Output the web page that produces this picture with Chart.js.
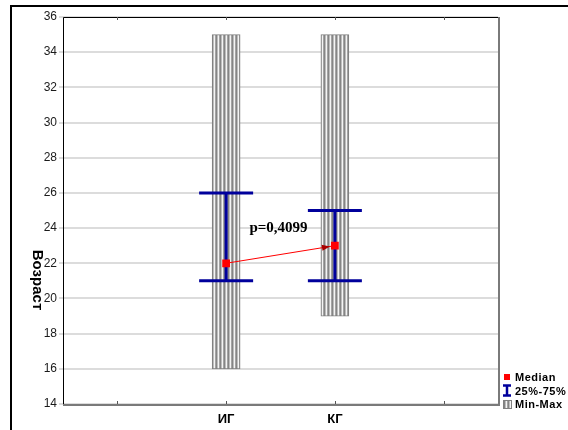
<!DOCTYPE html>
<html>
<head>
<meta charset="utf-8">
<script src="https://cdn.jsdelivr.net/npm/chart.js@4/dist/chart.umd.min.js"></script>
<style>
  html, body { margin: 0; padding: 0; background: #ffffff; }
  #wrap { width: 568px; height: 430px; position: relative; }
</style>
</head>
<body>
<div id="wrap"><canvas id="c" width="568" height="430"></canvas></div>
<script>
// Age by group: median, interquartile range and min-max range
const categories = ['', 'ИГ', 'КГ', ''];
const minValues = [null, 16, 19, null];
const maxValues = [null, 35, 35, null];
const q1Values = [null, 21, 21, null];
const q3Values = [null, 26, 25, null];
const medianValues = [null, 22, 23, null];
const yTickValues = [14, 16, 18, 20, 22, 24, 26, 28, 30, 32, 34, 36];
const yTitle = 'Возраст';
const pLabel = 'p=0,4099';
const pLabelY = 24;
const legendLabels = ['Median', '25%-75%', 'Min-Max'];

const BLUE = '#00009c';
const RED = '#ff0000';

// vertical striped fill for the range bars
function stripePattern() {
  const cols = ['#858585', '#bdbdbd', '#f4f4f4', '#a4a4a4'];
  const pc = document.createElement('canvas');
  pc.width = cols.length; pc.height = 4;
  const p = pc.getContext('2d');
  cols.forEach((c, i) => { p.fillStyle = c; p.fillRect(i, 0, 1, 4); });
  return p.createPattern(pc, 'repeat');
}
const ctx0 = document.getElementById('c').getContext('2d');
const stripes = stripePattern();

const rangeData = categories.map((c, i) => minValues[i] == null ? null : [minValues[i], maxValues[i]]);

const framePlugin = {
  id: 'frame',
  beforeDraw(chart) {
    const c = chart.ctx;
    c.save();
    c.fillStyle = '#ffffff';
    c.fillRect(0, 0, chart.width, chart.height);
    c.strokeStyle = '#000000';
    c.lineWidth = 2;
    c.beginPath();
    c.moveTo(11, chart.height);
    c.lineTo(11, 6);
    c.lineTo(chart.width, 6);
    c.stroke();
    c.restore();
  }
};

const whiskerPlugin = {
  id: 'whiskers',
  afterDatasetDraw(chart, args) {
    if (args.meta.type !== 'bar') return;
    const c = chart.ctx, x = chart.scales.x, y = chart.scales.y;
    c.save();
    c.strokeStyle = BLUE;
    c.lineWidth = 3;
    categories.forEach((cat, i) => {
      if (q1Values[i] == null) return;
      const px = x.getPixelForValue(i);
      const y1 = y.getPixelForValue(q1Values[i]);
      const y3 = y.getPixelForValue(q3Values[i]);
      const hw = 27;
      c.beginPath();
      c.moveTo(px, y1); c.lineTo(px, y3);
      c.moveTo(px - hw, y1); c.lineTo(px + hw, y1);
      c.moveTo(px - hw, y3); c.lineTo(px + hw, y3);
      c.stroke();
    });
    c.restore();
  }
};

const overlayPlugin = {
  id: 'overlay',
  afterDatasetsDraw(chart) {
    const c = chart.ctx, x = chart.scales.x, y = chart.scales.y, a = chart.chartArea;
    c.save();
    // plot border
    c.lineWidth = 1;
    c.strokeStyle = '#000000';
    c.beginPath();
    c.moveTo(a.left + 0.5, a.bottom);
    c.lineTo(a.left + 0.5, a.top + 0.5);
    c.lineTo(a.right, a.top + 0.5);
    c.stroke();
    c.lineWidth = 2;
    c.strokeStyle = '#7a7a7a';
    c.beginPath();
    c.moveTo(a.right + 1, a.top);
    c.lineTo(a.right + 1, a.bottom + 1);
    c.lineTo(a.left, a.bottom + 1);
    c.stroke();
    // small inward category ticks
    c.lineWidth = 1;
    c.strokeStyle = '#555555';
    categories.forEach((cat, i) => {
      const px = Math.round(x.getPixelForValue(i)) + 0.5;
      c.beginPath();
      c.moveTo(px, a.top); c.lineTo(px, a.top + 3);
      c.moveTo(px, a.bottom); c.lineTo(px, a.bottom - 3);
      c.stroke();
    });
    // arrow head at the second median
    const idx = medianValues.map((v, i) => v == null ? -1 : i).filter(i => i >= 0);
    const x0 = x.getPixelForValue(idx[0]), y0 = y.getPixelForValue(medianValues[idx[0]]);
    const x1 = x.getPixelForValue(idx[1]), y1 = y.getPixelForValue(medianValues[idx[1]]);
    const ang = Math.atan2(y1 - y0, x1 - x0);
    const tipX = x1 - 5 * Math.cos(ang), tipY = y1 - 5 * Math.sin(ang);
    const L = 8, W = 3;
    c.fillStyle = '#aa0000';
    c.beginPath();
    c.moveTo(tipX, tipY);
    c.lineTo(tipX - L * Math.cos(ang) + W * Math.sin(ang), tipY - L * Math.sin(ang) - W * Math.cos(ang));
    c.lineTo(tipX - L * Math.cos(ang) - W * Math.sin(ang), tipY - L * Math.sin(ang) + W * Math.cos(ang));
    c.closePath();
    c.fill();
    // p-value label
    c.fillStyle = '#000000';
    c.font = 'bold 15px "Liberation Serif", "Times New Roman", serif';
    c.textAlign = 'center';
    c.textBaseline = 'middle';
    c.fillText(pLabel, (x0 + x1) / 2 - 2, y.getPixelForValue(pLabelY));
    // y axis title, reading top to bottom
    c.save();
    c.translate(37, 280);
    c.rotate(Math.PI / 2);
    c.font = 'bold 15px "Liberation Sans", Arial, sans-serif';
    c.fillStyle = '#000000';
    c.textAlign = 'center';
    c.textBaseline = 'middle';
    c.fillText(yTitle, 0, 0);
    c.restore();
    // legend
    const lx = 503, rows = [377, 390.5, 404];
    c.font = 'bold 11px "Liberation Sans", Arial, sans-serif';
    c.letterSpacing = '0.5px';
    c.textAlign = 'left';
    c.textBaseline = 'middle';
    // median marker
    c.fillStyle = RED;
    c.fillRect(lx + 1, rows[0] - 3, 6, 6);
    // quartile marker
    c.strokeStyle = BLUE;
    c.lineWidth = 2.5;
    c.beginPath();
    c.moveTo(lx, rows[1] - 5); c.lineTo(lx + 8, rows[1] - 5);
    c.moveTo(lx, rows[1] + 5); c.lineTo(lx + 8, rows[1] + 5);
    c.moveTo(lx + 4, rows[1] - 5); c.lineTo(lx + 4, rows[1] + 5);
    c.stroke();
    // range marker
    c.fillStyle = stripes;
    c.fillRect(lx, rows[2] - 4, 8, 9);
    c.strokeStyle = '#808080';
    c.lineWidth = 1;
    c.strokeRect(lx + 0.5, rows[2] - 3.5, 8, 8);
    c.fillStyle = '#000000';
    legendLabels.forEach((t, i) => c.fillText(t, lx + 12, rows[i] + 1));
    c.restore();
  }
};

new Chart(ctx0, {
  data: {
    labels: categories,
    datasets: [
      {
        type: 'line',
        label: legendLabels[0],
        data: medianValues,
        borderColor: RED,
        borderWidth: 1,
        pointStyle: 'rect',
        pointRadius: 5.5,
        pointBackgroundColor: RED,
        pointBorderWidth: 0,
        spanGaps: false,
        order: 1
      },
      {
        type: 'bar',
        label: legendLabels[2],
        data: rangeData,
        backgroundColor: stripes,
        borderColor: '#808080',
        borderWidth: 1,
        borderSkipped: false,
        barThickness: 28,
        order: 2
      }
    ]
  },
  options: {
    responsive: false,
    animation: false,
    devicePixelRatio: 1,
    layout: { padding: { left: 0, top: 17, right: 70, bottom: 0 } },
    plugins: { legend: { display: false }, tooltip: { enabled: false } },
    scales: {
      x: {
        type: 'category',
        offset: true,
        grid: { display: false },
        border: { display: false },
        ticks: {
          color: '#000000',
          padding: 0,
          font: { family: '"Liberation Sans", Arial, sans-serif', size: 13, weight: 'bold' }
        },
        afterFit(s) { s.height = 26; }
      },
      y: {
        min: 14,
        max: 36,
        afterBuildTicks(s) { s.ticks = yTickValues.map(v => ({ value: v })); },
        grid: { color: '#dcdcdc', lineWidth: 2, drawTicks: true, tickLength: 4 },
        border: { display: false },
        ticks: {
          color: '#1a1a1a',
          padding: 2,
          font: { family: '"Liberation Sans", Arial, sans-serif', size: 12 }
        },
        afterFit(s) { s.width = 63; }
      }
    }
  },
  plugins: [framePlugin, whiskerPlugin, overlayPlugin]
});
</script>
</body>
</html>
